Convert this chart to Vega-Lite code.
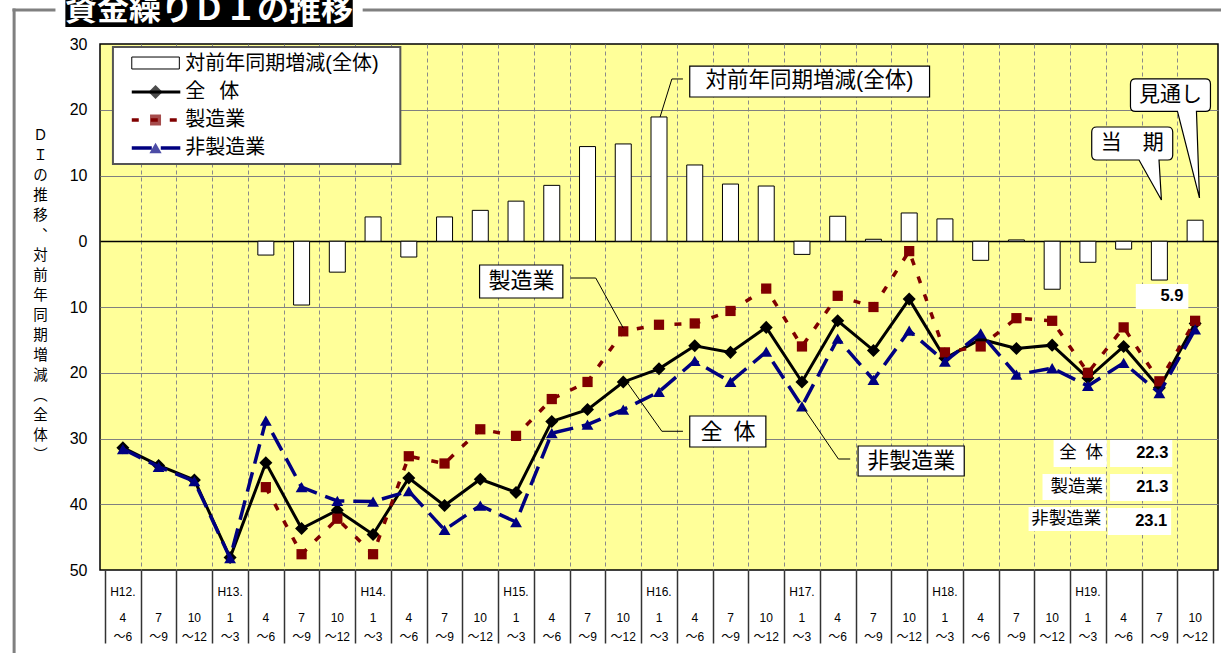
{
  "$schema": "https://vega.github.io/schema/vega-lite/v6.json",
  "width": 1118,
  "height": 526,
  "autosize": {"type": "none"},
  "padding": {"left": 100, "top": 44, "right": 3, "bottom": 83},
  "background": "#ffffff",
  "config": {
    "view": {"fill": "#FFFF99", "stroke": "#000000", "strokeWidth": 1.5},
    "text": {"font": "Liberation Sans, Noto Sans CJK JP", "color": "#000000"}
  },
  "data": {
    "values": [
      {"t": 0, "year": "H12.", "m": "4", "r": "～6", "bar": null, "all": -31.4, "mfg": null, "non": -31.6},
      {"t": 1, "year": "", "m": "7", "r": "～9", "bar": null, "all": -34.1, "mfg": null, "non": -34.3},
      {"t": 2, "year": "", "m": "10", "r": "～12", "bar": null, "all": -36.3, "mfg": null, "non": -36.5},
      {"t": 3, "year": "H13.", "m": "1", "r": "～3", "bar": null, "all": -48.1, "mfg": null, "non": -48.2},
      {"t": 4, "year": "", "m": "4", "r": "～6", "bar": -2.1, "all": -33.7, "mfg": -37.4, "non": -27.3},
      {"t": 5, "year": "", "m": "7", "r": "～9", "bar": -9.7, "all": -43.7, "mfg": -47.6, "non": -37.4},
      {"t": 6, "year": "", "m": "10", "r": "～12", "bar": -4.7, "all": -40.9, "mfg": -42.2, "non": -39.5},
      {"t": 7, "year": "H14.", "m": "1", "r": "～3", "bar": 3.7, "all": -44.6, "mfg": -47.6, "non": -39.6},
      {"t": 8, "year": "", "m": "4", "r": "～6", "bar": -2.4, "all": -36.0, "mfg": -32.7, "non": -38.0},
      {"t": 9, "year": "", "m": "7", "r": "～9", "bar": 3.7, "all": -40.2, "mfg": -33.8, "non": -43.9},
      {"t": 10, "year": "", "m": "10", "r": "～12", "bar": 4.7, "all": -36.2, "mfg": -28.6, "non": -40.2},
      {"t": 11, "year": "H15.", "m": "1", "r": "～3", "bar": 6.1, "all": -38.2, "mfg": -29.6, "non": -42.7},
      {"t": 12, "year": "", "m": "4", "r": "～6", "bar": 8.5, "all": -27.4, "mfg": -24.0, "non": -29.2},
      {"t": 13, "year": "", "m": "7", "r": "～9", "bar": 14.4, "all": -25.6, "mfg": -21.4, "non": -27.9},
      {"t": 14, "year": "", "m": "10", "r": "～12", "bar": 14.8, "all": -21.4, "mfg": -13.7, "non": -25.6},
      {"t": 15, "year": "H16.", "m": "1", "r": "～3", "bar": 18.9, "all": -19.4, "mfg": -12.7, "non": -22.9},
      {"t": 16, "year": "", "m": "4", "r": "～6", "bar": 11.6, "all": -15.9, "mfg": -12.5, "non": -18.2},
      {"t": 17, "year": "", "m": "7", "r": "～9", "bar": 8.7, "all": -16.9, "mfg": -10.6, "non": -21.4},
      {"t": 18, "year": "", "m": "10", "r": "～12", "bar": 8.4, "all": -13.1, "mfg": -7.2, "non": -16.8},
      {"t": 19, "year": "H17.", "m": "1", "r": "～3", "bar": -2.0, "all": -21.4, "mfg": -16.0, "non": -25.1},
      {"t": 20, "year": "", "m": "4", "r": "～6", "bar": 3.8, "all": -12.1, "mfg": -8.3, "non": -14.8},
      {"t": 21, "year": "", "m": "7", "r": "～9", "bar": 0.3, "all": -16.6, "mfg": -10.0, "non": -21.1},
      {"t": 22, "year": "", "m": "10", "r": "～12", "bar": 4.3, "all": -8.8, "mfg": -1.5, "non": -13.6},
      {"t": 23, "year": "H18.", "m": "1", "r": "～3", "bar": 3.4, "all": -17.8, "mfg": -16.9, "non": -18.3},
      {"t": 24, "year": "", "m": "4", "r": "～6", "bar": -2.9, "all": -14.9, "mfg": -16.0, "non": -14.0},
      {"t": 25, "year": "", "m": "7", "r": "～9", "bar": 0.2, "all": -16.3, "mfg": -11.7, "non": -20.3},
      {"t": 26, "year": "", "m": "10", "r": "～12", "bar": -7.3, "all": -15.8, "mfg": -12.1, "non": -19.3},
      {"t": 27, "year": "H19.", "m": "1", "r": "～3", "bar": -3.2, "all": -20.8, "mfg": -20.0, "non": -22.0},
      {"t": 28, "year": "", "m": "4", "r": "～6", "bar": -1.2, "all": -16.0, "mfg": -13.1, "non": -18.5},
      {"t": 29, "year": "", "m": "7", "r": "～9", "bar": -5.9, "all": -22.3, "mfg": -21.3, "non": -23.1},
      {"t": 30, "year": "", "m": "10", "r": "～12", "bar": 3.2, "all": -12.5, "mfg": -12.1, "non": -13.4}
    ]
  },
  "layer": [
    {
      "mark": {"type": "bar", "orient": "vertical", "width": 16, "fill": "#ffffff", "stroke": "#000000", "strokeWidth": 1},
      "encoding": {
        "x": {
          "field": "t", "type": "quantitative",
          "scale": {"domain": [-0.5, 30.5], "nice": false, "zero": false},
          "axis": {
            "values": [-0.5, 0.5, 1.5, 2.5, 3.5, 4.5, 5.5, 6.5, 7.5, 8.5, 9.5, 10.5, 11.5, 12.5, 13.5, 14.5, 15.5, 16.5, 17.5, 18.5, 19.5, 20.5, 21.5, 22.5, 23.5, 24.5, 25.5, 26.5, 27.5, 28.5, 29.5, 30.5],
            "tickCount": 64,
            "labels": false, "domain": false, "title": null,
            "ticks": true, "tickSize": 73, "tickColor": "#333333", "tickWidth": 1.5,
            "grid": true, "gridColor": "#8a8a8a", "gridDash": [4, 3], "gridWidth": 1,
            "gridOpacity": {"condition": {"test": "datum.value < 0 || datum.value > 30", "value": 0}, "value": 1}
          }
        },
        "y": {
          "field": "bar", "type": "quantitative",
          "scale": {"domain": [-50, 30], "nice": false, "zero": false},
          "axis": {
            "values": [-50, -40, -30, -20, -10, 0, 10, 20, 30],
            "tickCount": 20,
            "labelExpr": "abs(datum.value)",
            "labelFont": "Liberation Sans", "labelFontSize": 16, "labelColor": "#000000",
            "labelPadding": 13, "labelFlush": false, "ticks": false, "domain": false,
            "grid": true,
            "gridColor": {"condition": {"test": "datum.value === 0", "value": "#000000"}, "value": "#808080"},
            "gridWidth": {"condition": {"test": "datum.value === 0", "value": 1.5}, "value": 1},
            "gridOpacity": {"condition": {"test": "datum.value === 30 || datum.value === -50", "value": 0}, "value": 1},
            "title": ["Ｄ", "Ｉ", "の", "推", "移", "︑", "対", "前", "年", "同", "期", "増", "減", "\u3000", "︵", "全", "体", "︶"],
            "titleAngle": 0, "titleX": -60, "titleY": 84, "titleAlign": "center", "titleBaseline": "top",
            "titleFont": "Noto Sans CJK JP", "titleFontSize": 14.5, "titleFontWeight": "normal",
            "titleLineHeight": 20, "titleColor": "#000000"
          }
        }
      }
    },
    {
      "mark": {"type": "line", "color": "#000000", "strokeWidth": 3,
               "point": {"shape": "diamond", "size": 170, "filled": true, "color": "#000000"}},
      "encoding": {
        "x": {"field": "t", "type": "quantitative"},
        "y": {"field": "all", "type": "quantitative"}
      }
    },
    {
      "mark": {"type": "line", "color": "#800000", "strokeWidth": 3.5, "strokeDash": [7, 12],
               "point": {"shape": "square", "size": 105, "filled": true, "color": "#800000"}},
      "encoding": {
        "x": {"field": "t", "type": "quantitative"},
        "y": {"field": "mfg", "type": "quantitative"}
      }
    },
    {
      "mark": {"type": "line", "color": "#000080", "strokeWidth": 3.5, "strokeDash": [20, 9],
               "point": {"shape": "triangle-up", "size": 140, "filled": true, "color": "#000080"}},
      "encoding": {
        "x": {"field": "t", "type": "quantitative"},
        "y": {"field": "non", "type": "quantitative"}
      }
    },
    {
      "mark": {"type": "text", "fontSize": 12, "baseline": "middle", "align": "center"},
      "encoding": {
        "x": {"field": "t", "type": "quantitative"},
        "y": {"datum": -53.3},
        "text": {"field": "year"}
      }
    },
    {
      "mark": {"type": "text", "fontSize": 12, "baseline": "middle", "align": "center"},
      "encoding": {
        "x": {"field": "t", "type": "quantitative"},
        "y": {"datum": -57.35},
        "text": {"field": "m"}
      }
    },
    {
      "mark": {"type": "text", "fontSize": 12, "baseline": "middle", "align": "center"},
      "encoding": {
        "x": {"field": "t", "type": "quantitative"},
        "y": {"datum": -60.14},
        "text": {"field": "r"}
      }
    },
    {
      "data": {"values": [{}]},
      "layer": [
        {
          "mark": {"type": "rule", "color": "#808080", "strokeWidth": 3},
          "encoding": {"x": {"datum": -3.09}, "x2": {"datum": -1.886}, "y": {"datum": 35.17}}
        },
        {
          "mark": {"type": "rule", "color": "#808080", "strokeWidth": 3},
          "encoding": {"x": {"datum": 6.709}, "x2": {"datum": 30.8}, "y": {"datum": 35.17}}
        },
        {
          "mark": {"type": "rule", "color": "#808080", "strokeWidth": 3},
          "encoding": {"x": {"datum": -3.043}, "y": {"datum": 35.4}, "y2": {"datum": -63}}
        },
        {
          "mark": {"type": "rect", "fill": "#000000"},
          "encoding": {"x": {"datum": -1.609}, "x2": {"datum": 6.432}, "y": {"datum": 37.5}, "y2": {"datum": 32.59}}
        },
        {
          "mark": {"type": "text", "font": "Noto Sans CJK JP", "fontSize": 32, "fontWeight": "bold", "color": "#ffffff", "align": "center", "baseline": "alphabetic"},
          "encoding": {"x": {"datum": 2.411}, "y": {"datum": 33.65}, "text": {"value": "資金繰りＤＩの推移"}}
        },

        {
          "mark": {"type": "rect", "fill": "#ffffff", "stroke": "#555555", "strokeWidth": 2},
          "encoding": {"x": {"datum": -0.278}, "x2": {"datum": 7.763}, "y": {"datum": 29.54}, "y2": {"datum": 11.75}}
        },
        {
          "mark": {"type": "rect", "fill": "#ffffff", "stroke": "#000000", "strokeWidth": 1},
          "encoding": {"x": {"datum": 0.249}, "x2": {"datum": 1.58}, "y": {"datum": 28.02}, "y2": {"datum": 26.2}}
        },
        {
          "mark": {"type": "text", "fontSize": 20, "align": "left", "baseline": "middle"},
          "encoding": {"x": {"datum": 1.746}, "y": {"datum": 26.96}, "text": {"value": "対前年同期増減(全体)"}}
        },
        {
          "mark": {"type": "rule", "color": "#000000", "strokeWidth": 3},
          "encoding": {"x": {"datum": 0.249}, "x2": {"datum": 1.607}, "y": {"datum": 22.7}}
        },
        {
          "mark": {"type": "point", "shape": "diamond", "size": 200, "filled": true, "color": "#000000"},
          "encoding": {"x": {"datum": 0.914}, "y": {"datum": 22.7}}
        },
        {
          "mark": {"type": "text", "fontSize": 20, "align": "left", "baseline": "middle"},
          "encoding": {"x": {"datum": 1.746}, "y": {"datum": 22.7}, "text": {"value": "全\u2002\u2009体"}}
        },
        {
          "mark": {"type": "rule", "color": "#800000", "strokeWidth": 3.5, "strokeDash": [7, 12]},
          "encoding": {"x": {"datum": 0.249}, "x2": {"datum": 1.607}, "y": {"datum": 18.44}}
        },
        {
          "mark": {"type": "point", "shape": "square", "size": 121, "filled": true, "color": "#800000"},
          "encoding": {"x": {"datum": 0.914}, "y": {"datum": 18.44}}
        },
        {
          "mark": {"type": "text", "fontSize": 20, "align": "left", "baseline": "middle"},
          "encoding": {"x": {"datum": 1.746}, "y": {"datum": 18.44}, "text": {"value": "製造業"}}
        },
        {
          "mark": {"type": "rule", "color": "#000080", "strokeWidth": 3.5, "strokeDash": [20, 9]},
          "encoding": {"x": {"datum": 0.249}, "x2": {"datum": 1.607}, "y": {"datum": 14.18}}
        },
        {
          "mark": {"type": "point", "shape": "triangle-up", "size": 150, "filled": true, "color": "#000080"},
          "encoding": {"x": {"datum": 0.914}, "y": {"datum": 14.18}}
        },
        {
          "mark": {"type": "text", "fontSize": 20, "align": "left", "baseline": "middle"},
          "encoding": {"x": {"datum": 1.746}, "y": {"datum": 14.18}, "text": {"value": "非製造業"}}
        },

        {
          "mark": {"type": "rule", "color": "#000000", "strokeWidth": 1},
          "encoding": {"x": {"datum": 15.67}, "x2": {"datum": 15.36}, "y": {"datum": 24.68}, "y2": {"datum": 24.68}}
        },
        {
          "mark": {"type": "rule", "color": "#000000", "strokeWidth": 1},
          "encoding": {"x": {"datum": 15.36}, "x2": {"datum": 15.03}, "y": {"datum": 24.68}, "y2": {"datum": 18.9}}
        },
        {
          "mark": {"type": "rect", "fill": "#ffffff", "stroke": "#000000", "strokeWidth": 1.2},
          "encoding": {"x": {"datum": 15.86}, "x2": {"datum": 22.57}, "y": {"datum": 26.65}, "y2": {"datum": 21.94}}
        },
        {
          "mark": {"type": "text", "fontSize": 21.5, "align": "center", "baseline": "middle"},
          "encoding": {"x": {"datum": 19.21}, "y": {"datum": 24.3}, "text": {"value": "対前年同期増減(全体)"}}
        },

        {
          "mark": {"type": "rule", "color": "#000000", "strokeWidth": 1},
          "encoding": {"x": {"datum": 12.53}, "x2": {"datum": 13.23}, "y": {"datum": -5.59}, "y2": {"datum": -5.59}}
        },
        {
          "mark": {"type": "rule", "color": "#000000", "strokeWidth": 1},
          "encoding": {"x": {"datum": 13.23}, "x2": {"datum": 14.0}, "y": {"datum": -5.59}, "y2": {"datum": -13.2}}
        },
        {
          "mark": {"type": "rect", "fill": "#ffffff", "stroke": "#000000", "strokeWidth": 1.2},
          "encoding": {"x": {"datum": 9.98}, "x2": {"datum": 12.31}, "y": {"datum": -3.61}, "y2": {"datum": -8.63}}
        },
        {
          "mark": {"type": "text", "fontSize": 22, "align": "center", "baseline": "middle"},
          "encoding": {"x": {"datum": 11.15}, "y": {"datum": -6.12}, "text": {"value": "製造業"}}
        },

        {
          "mark": {"type": "rule", "color": "#000000", "strokeWidth": 1},
          "encoding": {"x": {"datum": 15.67}, "x2": {"datum": 15.08}, "y": {"datum": -28.9}, "y2": {"datum": -28.9}}
        },
        {
          "mark": {"type": "rule", "color": "#000000", "strokeWidth": 1},
          "encoding": {"x": {"datum": 15.08}, "x2": {"datum": 14.1}, "y": {"datum": -28.9}, "y2": {"datum": -21.4}}
        },
        {
          "mark": {"type": "rect", "fill": "#ffffff", "stroke": "#000000", "strokeWidth": 1.2},
          "encoding": {"x": {"datum": 15.86}, "x2": {"datum": 17.99}, "y": {"datum": -26.58}, "y2": {"datum": -31.29}}
        },
        {
          "mark": {"type": "text", "fontSize": 22, "align": "center", "baseline": "middle"},
          "encoding": {"x": {"datum": 16.93}, "y": {"datum": -28.94}, "text": {"value": "全\u2002体"}}
        },

        {
          "mark": {"type": "rule", "color": "#000000", "strokeWidth": 1},
          "encoding": {"x": {"datum": 20.35}, "x2": {"datum": 20.02}, "y": {"datum": -33.12}, "y2": {"datum": -33.12}}
        },
        {
          "mark": {"type": "rule", "color": "#000000", "strokeWidth": 1},
          "encoding": {"x": {"datum": 20.02}, "x2": {"datum": 19.05}, "y": {"datum": -33.12}, "y2": {"datum": -25.41}}
        },
        {
          "mark": {"type": "rect", "fill": "#ffffff", "stroke": "#000000", "strokeWidth": 1.2},
          "encoding": {"x": {"datum": 20.57}, "x2": {"datum": 23.54}, "y": {"datum": -31.14}, "y2": {"datum": -35.7}}
        },
        {
          "mark": {"type": "text", "fontSize": 22, "align": "center", "baseline": "middle"},
          "encoding": {"x": {"datum": 22.06}, "y": {"datum": -33.42}, "text": {"value": "非製造業"}}
        },

        {
          "mark": {"type": "point", "size": 4, "filled": true, "fill": "#ffffff", "stroke": "#000000", "strokeWidth": 1.2, "opacity": 1,
                   "shape": "M-35,-16.25L35,-16.25Q40,-16.25,40,-11.25L40,11.25Q40,16.25,35,16.25L26,16.25L29,102.75L7,16.25L-35,16.25Q-40,16.25,-40,11.25L-40,-11.25Q-40,-16.25,-35,-16.25Z"},
          "encoding": {"x": {"datum": 29.31}, "y": {"datum": 22.21}}
        },
        {
          "mark": {"type": "text", "fontSize": 21, "align": "center", "baseline": "middle"},
          "encoding": {"x": {"datum": 29.31}, "y": {"datum": 22.21}, "text": {"value": "見通し"}}
        },
        {
          "mark": {"type": "point", "size": 4, "filled": true, "fill": "#ffffff", "stroke": "#000000", "strokeWidth": 1.2, "opacity": 1,
                   "shape": "M-35.5,-16.5L35.5,-16.5Q40.5,-16.5,40.5,-11.5L40.5,11.5Q40.5,16.5,35.5,16.5L26.8,16.5L29.2,56.5L6.8,16.5L-35.5,16.5Q-40.5,16.5,-40.5,11.5L-40.5,-11.5Q-40.5,-16.5,-35.5,-16.5Z"},
          "encoding": {"x": {"datum": 28.24}, "y": {"datum": 14.87}}
        },
        {
          "mark": {"type": "text", "fontSize": 21, "align": "center", "baseline": "middle"},
          "encoding": {"x": {"datum": 28.24}, "y": {"datum": 14.87}, "text": {"value": "当　期"}}
        },

        {
          "mark": {"type": "rect", "fill": "#ffffff"},
          "encoding": {"x": {"datum": 28.34}, "x2": {"datum": 29.81}, "y": {"datum": -6.5}, "y2": {"datum": -10.3}}
        },
        {
          "mark": {"type": "text", "fontSize": 16.5, "fontWeight": "bold", "align": "right", "baseline": "middle"},
          "encoding": {"x": {"datum": 29.67}, "y": {"datum": -8.4}, "text": {"value": "5.9"}}
        },

        {
          "mark": {"type": "rect", "fill": "#ffffff"},
          "encoding": {"x": {"datum": 26.04}, "x2": {"datum": 27.53}, "y": {"datum": -30.23}, "y2": {"datum": -34.33}}
        },
        {
          "mark": {"type": "rect", "fill": "#ffffff"},
          "encoding": {"x": {"datum": 27.62}, "x2": {"datum": 29.36}, "y": {"datum": -30.23}, "y2": {"datum": -34.33}}
        },
        {
          "mark": {"type": "text", "fontSize": 17.5, "align": "right", "baseline": "middle"},
          "encoding": {"x": {"datum": 27.42}, "y": {"datum": -32.28}, "text": {"value": "全\u2002体"}}
        },
        {
          "mark": {"type": "text", "fontSize": 16.5, "fontWeight": "bold", "align": "right", "baseline": "middle"},
          "encoding": {"x": {"datum": 29.25}, "y": {"datum": -32.28}, "text": {"value": "22.3"}}
        },
        {
          "mark": {"type": "rect", "fill": "#ffffff"},
          "encoding": {"x": {"datum": 25.73}, "x2": {"datum": 27.5}, "y": {"datum": -35.4}, "y2": {"datum": -39.35}}
        },
        {
          "mark": {"type": "rect", "fill": "#ffffff"},
          "encoding": {"x": {"datum": 27.62}, "x2": {"datum": 29.36}, "y": {"datum": -35.4}, "y2": {"datum": -39.5}}
        },
        {
          "mark": {"type": "text", "fontSize": 17.5, "align": "right", "baseline": "middle"},
          "encoding": {"x": {"datum": 27.42}, "y": {"datum": -37.38}, "text": {"value": "製造業"}}
        },
        {
          "mark": {"type": "text", "fontSize": 16.5, "fontWeight": "bold", "align": "right", "baseline": "middle"},
          "encoding": {"x": {"datum": 29.25}, "y": {"datum": -37.45}, "text": {"value": "21.3"}}
        },
        {
          "mark": {"type": "rect", "fill": "#ffffff"},
          "encoding": {"x": {"datum": 25.34}, "x2": {"datum": 27.5}, "y": {"datum": -40.42}, "y2": {"datum": -44.07}}
        },
        {
          "mark": {"type": "rect", "fill": "#ffffff"},
          "encoding": {"x": {"datum": 27.56}, "x2": {"datum": 29.33}, "y": {"datum": -40.57}, "y2": {"datum": -44.68}}
        },
        {
          "mark": {"type": "text", "fontSize": 17.5, "align": "right", "baseline": "middle"},
          "encoding": {"x": {"datum": 27.37}, "y": {"datum": -42.24}, "text": {"value": "非製造業"}}
        },
        {
          "mark": {"type": "text", "fontSize": 16.5, "fontWeight": "bold", "align": "right", "baseline": "middle"},
          "encoding": {"x": {"datum": 29.22}, "y": {"datum": -42.62}, "text": {"value": "23.1"}}
        }
      ]
    }
  ]
}
